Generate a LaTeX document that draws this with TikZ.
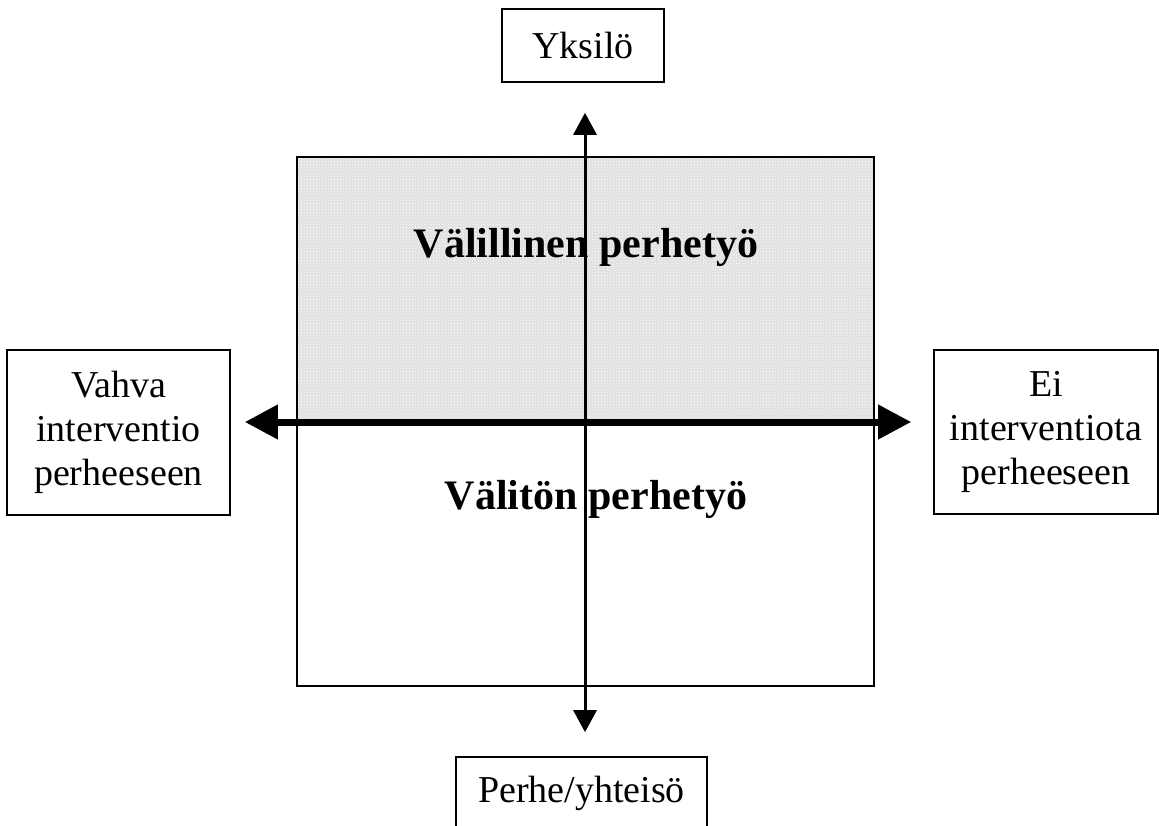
\documentclass[tikz,border=0pt]{standalone}
\usepackage{fontspec}
\setmainfont{Liberation Serif}
\usetikzlibrary{arrows.meta,patterns}
\begin{document}
\begin{tikzpicture}[x=1pt,y=-1pt,
  labelbox/.style={draw=black,line width=1.6pt,inner sep=0pt,align=center,
    font=\fontsize{38}{44}\selectfont},
  bigtext/.style={font=\fontsize{42}{48}\selectfont\bfseries,inner sep=0pt,anchor=base},
  vaxis/.style={line width=3pt,{Triangle[length=22pt,width=23pt]}-{Triangle[length=22pt,width=23pt]}},
  haxis/.style={line width=7pt,{Triangle[length=33pt,width=33pt]}-{Triangle[length=33pt,width=33pt]}}
]
\useasboundingbox (0,0) rectangle (1159,826);
\clip (0,0) rectangle (1159,826);
% field
\fill[black!12] (297,157) rectangle (874,422);
\fill[pattern=crosshatch dots,pattern color=white] (297,157) rectangle (874,422);
\node[draw=black,line width=1.6pt,minimum width=577pt,minimum height=529pt,inner sep=0pt] (field) at (585.5,421.5) {};
\node[bigtext] (upper) at (586,258) {Välillinen perhetyö};
\node[bigtext] (lower) at (596,509) {Välitön perhetyö};
% boxes
\node[labelbox,minimum width=162pt,minimum height=73pt] (yks) at (583,45.5) {Yksilö};
\node[labelbox,minimum width=251pt,minimum height=73pt] (bot) at (581.5,793.5) {Perhe/yhteisö};
\node[labelbox,minimum width=223pt,minimum height=165pt] (left) at (118.5,432.5) {Vahva\\interventio\\perheeseen};
\node[labelbox,minimum width=224pt,minimum height=164pt] (right) at (1046,432) {Ei\\interventiota\\perheeseen};
\coordinate (vx) at (585,0);
\coordinate (hy) at (0,422);
% axes
\draw[vaxis,shorten <=30pt,shorten >=24pt] (yks.south -| vx) -- (bot.north -| vx);
\draw[haxis,shorten <=14pt,shorten >=22pt] (left.east |- hy) -- (right.west |- hy);
\end{tikzpicture}
\end{document}
